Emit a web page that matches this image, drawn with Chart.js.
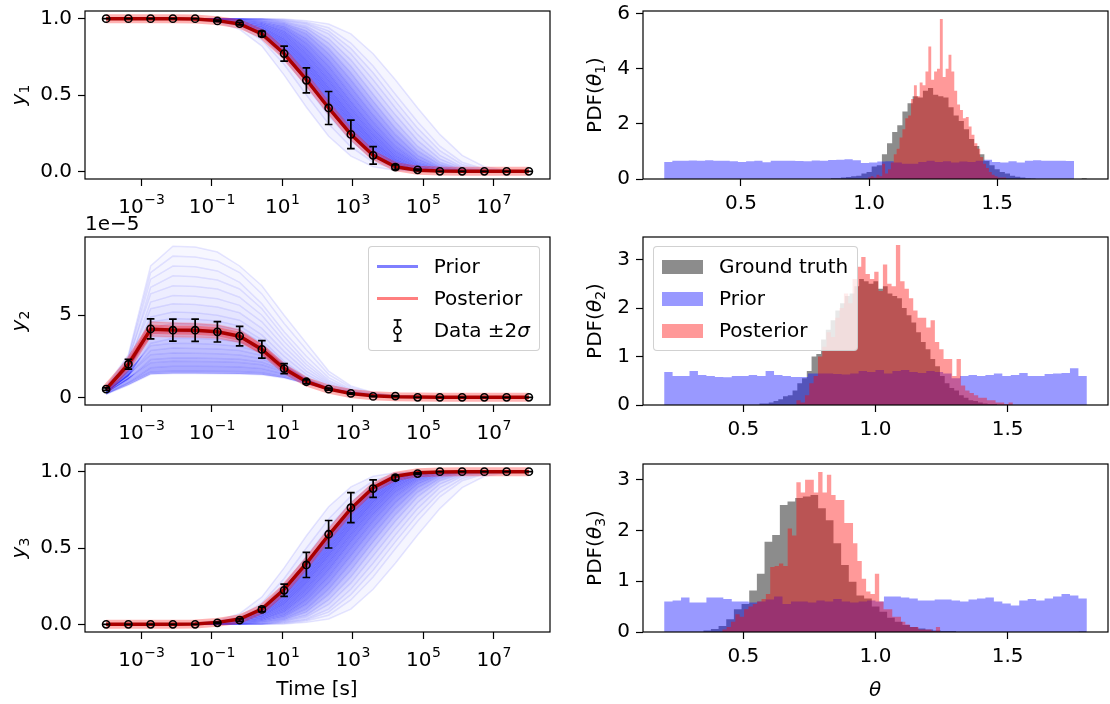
<!DOCTYPE html>
<html><head><meta charset="utf-8"><title>Prior / posterior</title>
<script src="https://cdn.jsdelivr.net/npm/chart.js@4.4.1/dist/chart.umd.min.js"></script>
<style>
html,body{margin:0;padding:0;background:#fff;}
body{position:relative;width:1110px;height:704px;overflow:hidden;font-family:"DejaVu Sans",sans-serif;color:#000;}
canvas{position:absolute;}
.t{position:absolute;font-size:20px;line-height:1.15;white-space:nowrap;z-index:3;}
.yl{transform:translate(-50%,-50%) rotate(-90deg);}
.xl{transform:translate(-50%,-50%);}
sub{font-size:70%;vertical-align:-0.3em;line-height:0;}
.leg{position:absolute;z-index:4;background:rgba(255,255,255,0.8);border:1px solid rgba(204,204,204,0.9);border-radius:4px;padding:8px 9px 8px 8px;font-size:20px;line-height:23px;}
.row{display:flex;align-items:center;height:23px;white-space:nowrap;}
.row+.row{margin-top:9px;}
.h{width:41px;height:23px;margin-right:16px;flex:none;display:flex;align-items:center;}
.p{width:41px;height:14px;}
</style></head><body>

<div class="t yl" style="left:18px;top:95px"><i>y</i><sub>1</sub></div>
<div class="t yl" style="left:18px;top:321px"><i>y</i><sub>2</sub></div>
<div class="t yl" style="left:18px;top:548px"><i>y</i><sub>3</sub></div>
<div class="t" style="left:85px;top:212px">1e−5</div>
<div class="t xl" style="left:317px;top:688px">Time [s]</div>
<div class="t yl" style="left:594px;top:95px">PDF(<i>θ</i><sub>1</sub>)</div>
<div class="t yl" style="left:594px;top:321px">PDF(<i>θ</i><sub>2</sub>)</div>
<div class="t yl" style="left:594px;top:548px">PDF(<i>θ</i><sub>3</sub>)</div>
<div class="t xl" style="left:875px;top:689px"><i>θ</i></div>

<div class="leg" style="right:570px;top:246px">
  <div class="row"><span class="h"><svg width="41" height="23"><line x1="0" y1="11.5" x2="41" y2="11.5" stroke="rgba(0,0,255,0.5)" stroke-width="2.8"/></svg></span>Prior</div>
  <div class="row"><span class="h"><svg width="41" height="23"><line x1="0" y1="11.5" x2="41" y2="11.5" stroke="rgba(255,0,0,0.5)" stroke-width="2.8"/></svg></span>Posterior</div>
  <div class="row"><span class="h"><svg width="41" height="23"><line x1="20.5" y1="1" x2="20.5" y2="22" stroke="#000" stroke-width="1.7"/><line x1="16.7" y1="1" x2="24.3" y2="1" stroke="#000" stroke-width="1.7"/><line x1="16.7" y1="22" x2="24.3" y2="22" stroke="#000" stroke-width="1.7"/><circle cx="20.5" cy="11.5" r="3.6" fill="#fff" stroke="#000" stroke-width="1.6"/></svg></span>Data ±2<i>σ</i></div>
</div>
<div class="leg" style="left:653px;top:246px">
  <div class="row"><span class="h"><span class="p" style="background:rgba(0,0,0,0.45)"></span></span>Ground truth</div>
  <div class="row"><span class="h"><span class="p" style="background:rgba(0,0,255,0.4)"></span></span>Prior</div>
  <div class="row"><span class="h"><span class="p" style="background:rgba(255,0,0,0.4)"></span></span>Posterior</div>
</div>

<script>
// ---------------- data ----------------
const TIME_S = [1e-4,4.281e-4,1.833e-3,7.848e-3,3.360e-2,0.1438,0.6158,2.637,11.29,48.33,206.9,885.9,3793,16238,69519,297635,1274275,5455595,23357215,1e8];
const X_TICK_EXPONENTS = [-3,-1,1,3,5,7];

const Y1_DATA = [1,1,1,1,1,0.985,0.967,0.90,0.771,0.596,0.415,0.242,0.105,0.028,0.01,0,0,0,0,0];
const Y1_ERR  = [0,0,0,0,0,0.005,0.008,0.016,0.049,0.082,0.108,0.093,0.057,0.015,0.005,0,0,0,0,0];
const Y2_DATA = [0.5,2.02,4.17,4.09,4.09,3.99,3.73,2.92,1.75,0.95,0.5,0.24,0.06,0.08,0,0,0,0,0,0]; // x 1e-5
const Y2_ERR  = [0.08,0.3,0.61,0.67,0.68,0.62,0.59,0.53,0.3,0.12,0.06,0.04,0.02,0.02,0,0,0,0,0,0];
const Y3_DATA = [0,0,0,0,0,0.01,0.028,0.098,0.223,0.389,0.59,0.764,0.889,0.96,0.987,1,1,1,1,1];
const Y3_ERR  = [0,0,0,0,0,0.005,0.008,0.015,0.04,0.082,0.09,0.098,0.057,0.015,0.005,0,0,0,0,0];

const POST_Y1 = [1,1,1,1,0.998,0.987,0.965,0.90,0.77,0.60,0.415,0.242,0.105,0.03,0.008,0.002,0,0,0,0];
const POST_Y2 = [0.5,2.02,4.15,4.1,4.08,4.0,3.72,2.92,1.75,0.95,0.5,0.24,0.1,0.04,0.015,0.005,0,0,0,0];
const POST_Y2_HI = [0.56,2.25,4.6,4.55,4.52,4.42,4.12,3.22,1.92,1.03,0.54,0.26,0.11,0.05,0.02,0.01,0,0,0,0];
const POST_Y2_LO = [0.44,1.82,3.72,3.68,3.66,3.6,3.34,2.64,1.6,0.88,0.46,0.22,0.09,0.03,0.01,0,0,0,0,0];
const POST_Y3 = [0,0,0,0,0.002,0.013,0.035,0.10,0.23,0.40,0.585,0.758,0.895,0.97,0.992,0.998,1,1,1,1];

const PRIOR_Y1 = [
 [1,1,1,1,0.993,0.975,0.93,0.82,0.63,0.42,0.23,0.1,0.03,0.007,0.001,0,0,0,0,0],
 [1,1,1,1,0.995,0.98,0.95,0.86,0.70,0.50,0.31,0.16,0.06,0.015,0.003,0,0,0,0,0],
 [1,1,1,1,0.997,0.984,0.958,0.885,0.74,0.555,0.365,0.2,0.08,0.02,0.004,0,0,0,0,0],
 [1,1,1,1,0.998,0.987,0.965,0.90,0.77,0.60,0.415,0.242,0.105,0.03,0.008,0.002,0,0,0,0],
 [1,1,1,1,0.999,0.99,0.971,0.92,0.805,0.645,0.46,0.283,0.135,0.045,0.011,0.003,0,0,0,0],
 [1,1,1,1,1,0.994,0.978,0.94,0.84,0.69,0.505,0.325,0.165,0.06,0.015,0.004,0,0,0,0],
 [1,1,1,1,1,0.996,0.982,0.952,0.87,0.73,0.552,0.37,0.203,0.082,0.022,0.006,0.001,0,0,0],
 [1,1,1,1,1,0.998,0.987,0.965,0.90,0.77,0.60,0.415,0.242,0.105,0.03,0.008,0.002,0,0,0],
 [1,1,1,1,1,0.999,0.99,0.971,0.92,0.805,0.645,0.46,0.283,0.135,0.045,0.011,0.003,0,0,0],
 [1,1,1,1,1,1,0.994,0.978,0.94,0.84,0.69,0.505,0.325,0.165,0.06,0.015,0.004,0,0,0],
 [1,1,1,1,1,1,0.996,0.982,0.952,0.87,0.73,0.552,0.37,0.203,0.082,0.022,0.006,0.001,0,0],
 [1,1,1,1,1,1,0.998,0.987,0.965,0.90,0.77,0.60,0.415,0.242,0.105,0.03,0.008,0.002,0,0],
 [1,1,1,1,1,1,0.999,0.99,0.971,0.92,0.805,0.645,0.46,0.283,0.135,0.045,0.011,0.003,0,0],
 [1,1,1,1,1,1,1,0.994,0.978,0.94,0.84,0.69,0.505,0.325,0.165,0.06,0.015,0.004,0,0],
 [1,1,1,1,1,1,1,0.996,0.982,0.952,0.87,0.73,0.552,0.37,0.203,0.082,0.022,0.006,0.001,0],
 [1,1,1,1,1,1,1,0.998,0.987,0.965,0.90,0.77,0.60,0.415,0.242,0.105,0.03,0.008,0.002,0],
 [1,1,1,1,1,1,1,0.999,0.99,0.971,0.92,0.805,0.645,0.46,0.283,0.135,0.045,0.011,0.003,0],
 [1,1,1,1,1,1,1,1,0.994,0.978,0.94,0.84,0.69,0.505,0.325,0.165,0.06,0.015,0.004,0],
 [1,1,1,1,1,1,1,1,0.998,0.987,0.965,0.90,0.77,0.60,0.415,0.242,0.105,0.03,0.008,0.002]
];
const PRIOR_Y2 = [
 [0.18,0.75,1.4,1.45,1.45,1.44,1.42,1.37,1.18,0.82,0.47,0.23,0.1,0.04,0.01,0,0,0,0,0],
 [0.22,0.9,1.55,1.6,1.6,1.59,1.57,1.5,1.25,0.85,0.48,0.23,0.1,0.04,0.01,0,0,0,0,0],
 [0.2,0.9,1.8,1.9,1.89,1.88,1.85,1.75,1.42,0.9,0.5,0.24,0.1,0.04,0.01,0,0,0,0,0],
 [0.3,1.2,2.1,2.2,2.19,2.17,2.12,1.98,1.55,0.95,0.5,0.24,0.1,0.04,0.01,0,0,0,0,0],
 [0.25,1.1,2.3,2.4,2.39,2.37,2.32,2.15,1.65,0.98,0.52,0.25,0.1,0.04,0.01,0,0,0,0,0],
 [0.35,1.4,2.6,2.7,2.69,2.66,2.58,2.35,1.75,1.0,0.52,0.25,0.1,0.04,0.01,0,0,0,0,0],
 [0.3,1.3,2.85,3.0,2.98,2.95,2.85,2.55,1.85,1.05,0.55,0.26,0.11,0.04,0.02,0,0,0,0,0],
 [0.4,1.6,3.15,3.3,3.28,3.22,3.1,2.75,1.9,1.05,0.55,0.26,0.1,0.04,0.01,0,0,0,0,0],
 [0.3,1.3,3.3,3.6,3.58,3.52,3.38,2.95,2.0,1.1,0.55,0.26,0.11,0.04,0.02,0,0,0,0,0],
 [0.5,1.9,3.9,4.0,3.98,3.9,3.7,3.1,2.0,1.1,0.55,0.25,0.1,0.04,0.01,0,0,0,0,0],
 [0.35,1.6,4.2,4.5,4.45,4.35,4.1,3.3,2.05,1.1,0.58,0.27,0.1,0.04,0.01,0,0,0,0,0],
 [0.45,1.9,4.6,4.8,4.75,4.65,4.35,3.5,2.2,1.2,0.62,0.28,0.11,0.04,0.02,0,0,0,0,0],
 [0.4,1.9,4.9,5.2,5.15,5.0,4.7,3.8,2.5,1.4,0.7,0.3,0.12,0.05,0.02,0,0,0,0,0],
 [0.5,2.1,5.4,5.7,5.65,5.5,5.15,4.2,2.8,1.6,0.78,0.33,0.13,0.05,0.02,0,0,0,0,0],
 [0.45,2.0,5.8,6.2,6.15,6.0,5.6,4.6,3.1,1.8,0.85,0.36,0.14,0.05,0.02,0,0,0,0,0],
 [0.55,2.3,6.3,6.8,6.75,6.6,6.1,5.0,3.4,2.0,0.95,0.4,0.16,0.06,0.02,0.01,0,0,0,0],
 [0.5,2.2,6.7,7.4,7.35,7.15,6.6,5.4,3.7,2.2,1.05,0.45,0.18,0.07,0.03,0.01,0,0,0,0],
 [0.65,2.4,7.2,8.0,7.95,7.7,7.0,5.7,4.0,2.5,1.2,0.5,0.2,0.08,0.03,0.01,0,0,0,0],
 [0.6,2.5,7.6,8.6,8.55,8.3,7.6,6.3,4.5,2.9,1.4,0.6,0.25,0.1,0.04,0.01,0,0,0,0],
 [0.7,2.6,8.0,9.2,9.15,8.85,8.0,6.8,5.0,3.3,1.6,0.7,0.3,0.12,0.05,0.02,0,0,0,0]
];
const PRIOR_Y3 = [
 [0,0,0,0,0.007,0.025,0.07,0.18,0.37,0.58,0.77,0.9,0.97,0.993,0.999,1,1,1,1,1],
 [0,0,0,0,0.005,0.02,0.05,0.14,0.30,0.50,0.69,0.84,0.94,0.985,0.997,1,1,1,1,1],
 [0,0,0,0,0.003,0.016,0.042,0.115,0.26,0.445,0.635,0.8,0.92,0.98,0.996,1,1,1,1,1],
 [0,0,0,0,0.002,0.013,0.035,0.10,0.23,0.40,0.585,0.758,0.895,0.97,0.992,0.998,1,1,1,1],
 [0,0,0,0,0.001,0.01,0.029,0.08,0.195,0.355,0.54,0.717,0.865,0.955,0.989,0.997,1,1,1,1],
 [0,0,0,0,0,0.006,0.022,0.06,0.16,0.31,0.495,0.675,0.835,0.94,0.985,0.996,1,1,1,1],
 [0,0,0,0,0,0.004,0.018,0.048,0.13,0.27,0.448,0.63,0.797,0.918,0.978,0.994,0.999,1,1,1],
 [0,0,0,0,0,0.002,0.013,0.035,0.10,0.23,0.40,0.585,0.758,0.895,0.97,0.992,0.998,1,1,1],
 [0,0,0,0,0,0.001,0.01,0.029,0.08,0.195,0.355,0.54,0.717,0.865,0.955,0.989,0.997,1,1,1],
 [0,0,0,0,0,0,0.006,0.022,0.06,0.16,0.31,0.495,0.675,0.835,0.94,0.985,0.996,1,1,1],
 [0,0,0,0,0,0,0.004,0.018,0.048,0.13,0.27,0.448,0.63,0.797,0.918,0.978,0.994,0.999,1,1],
 [0,0,0,0,0,0,0.002,0.013,0.035,0.10,0.23,0.40,0.585,0.758,0.895,0.97,0.992,0.998,1,1],
 [0,0,0,0,0,0,0.001,0.01,0.029,0.08,0.195,0.355,0.54,0.717,0.865,0.955,0.989,0.997,1,1],
 [0,0,0,0,0,0,0,0.006,0.022,0.06,0.16,0.31,0.495,0.675,0.835,0.94,0.985,0.996,1,1],
 [0,0,0,0,0,0,0,0.004,0.018,0.048,0.13,0.27,0.448,0.63,0.797,0.918,0.978,0.994,0.999,1],
 [0,0,0,0,0,0,0,0.002,0.013,0.035,0.10,0.23,0.40,0.585,0.758,0.895,0.97,0.992,0.998,1],
 [0,0,0,0,0,0,0,0.001,0.01,0.029,0.08,0.195,0.355,0.54,0.717,0.865,0.955,0.989,0.997,1],
 [0,0,0,0,0,0,0,0,0.006,0.022,0.06,0.16,0.31,0.495,0.675,0.835,0.94,0.985,0.996,1],
 [0,0,0,0,0,0,0,0,0.002,0.013,0.035,0.10,0.23,0.40,0.585,0.758,0.895,0.97,0.992,0.998]
];

// histograms: [first bin edge, bin width] and bin heights (density)
const GT1_BINS = [0.85, 0.02];
const GT1 = [0.03,0.03,0.05,0.07,0.1,0.12,0.2,0.25,0.45,0.5, 0.9,1.3,1.7,1.95,2.45,2.75,3.0,2.95,3.2,3.3, 3.05,3.0,2.95,2.6,2.3,2.1,1.8,1.45,1.2,0.9, 0.65,0.5,0.35,0.25,0.2,0.12,0.08,0.05,0.03,0.02, 0,0,0,0,0,0,0,0,0,0.03];
const PRIOR1_BINS = [0.2, 0.032];
const PRIOR1 = [0.62,0.66,0.66,0.67,0.66,0.68,0.66,0.66,0.64,0.62, 0.64,0.66,0.61,0.66,0.66,0.66,0.65,0.64,0.67,0.66, 0.69,0.70,0.72,0.68,0.58,0.60,0.63,0.64,0.60,0.55, 0.55,0.62,0.66,0.62,0.64,0.60,0.63,0.62,0.66,0.70, 0.62,0.60,0.64,0.60,0.66,0.68,0.66,0.66,0.66,0.65];
const POST1_BINS = [0.995, 0.01125];
const POST1 = [0.05,0.1,0.05,0.15,0.1,0.55,0.2,0.35,0.6,0.9, 1.1,1.5,1.8,2.2,2.3,2.9,3.4,3.0,3.5,3.4, 3.9,4.8,3.6,3.9,4.0,5.8,3.7,4.0,4.5,3.9, 3.2,2.7,2.5,2.2,2.25,1.9,1.6,1.3,1.1,0.8, 0.55,0.4,0.25,0.15,0.1,0.05,0.05,0.05];

const GT2_BINS = [0.56, 0.018];
const GT2 = [0.03,0.03,0.05,0.08,0.12,0.18,0.2,0.3,0.45,0.55, 0.7,1.0,1.05,1.35,1.55,1.75,1.95,2.1,2.25,2.3, 2.45,2.6,2.55,2.5,2.55,2.4,2.45,2.3,2.25,2.2, 2.0,1.85,1.7,1.5,1.3,1.15,0.95,0.8,0.6,0.45, 0.35,0.3,0.2,0.15,0.1,0.08,0.05,0.03,0.02,0.02];
const PRIOR2_BINS = [0.2, 0.032];
const PRIOR2 = [0.68,0.60,0.60,0.70,0.62,0.60,0.58,0.57,0.60,0.60, 0.62,0.60,0.70,0.62,0.60,0.58,0.58,0.65,0.65,0.65, 0.64,0.63,0.65,0.70,0.68,0.72,0.65,0.70,0.72,0.68, 0.66,0.70,0.68,0.65,0.55,0.60,0.62,0.60,0.62,0.65, 0.60,0.62,0.66,0.60,0.60,0.64,0.65,0.66,0.76,0.60];
const POST2_BINS = [0.70, 0.0164];
const POST2 = [0.1,0.05,0.2,0.45,0.6,1.0,1.2,1.5,1.4,1.8, 2.0,2.3,2.1,2.6,2.85,3.05,2.7,2.6,2.75,2.35, 2.9,2.5,2.45,3.3,2.55,2.4,2.2,1.95,1.8,1.8, 1.6,1.75,1.3,1.15,0.95,0.95,0.6,0.95,0.4,0.3, 0.25,0.2,0.15,0.15,0.1,0.1,0.05,0.05,0.02,0.05];

const GT3_BINS = [0.348, 0.029];
const GT3 = [0.03,0.06,0.12,0.25,0.45,0.55,0.82,1.15,1.78,1.91, 2.5,2.57,2.64,2.67,2.7,2.44,2.2,1.75,1.32,0.99, 0.72,0.66,0.5,0.4,0.28,0.2,0.14,0.1,0.07,0.05, 0.03,0.02,0.02,0,0,0,0,0,0,0, 0,0,0,0,0,0,0,0,0,0.01];
const PRIOR3_BINS = [0.2, 0.032];
const PRIOR3 = [0.60,0.62,0.68,0.58,0.58,0.68,0.68,0.65,0.60,0.60, 0.58,0.60,0.64,0.70,0.55,0.60,0.60,0.58,0.62,0.60, 0.65,0.60,0.58,0.60,0.62,0.60,0.70,0.70,0.68,0.66, 0.62,0.62,0.64,0.64,0.62,0.60,0.64,0.66,0.68,0.60, 0.56,0.52,0.62,0.65,0.62,0.66,0.70,0.75,0.72,0.66];
const POST3_BINS = [0.42, 0.0165];
const POST3 = [0.05,0.1,0.2,0.35,0.3,0.45,0.5,0.55,0.6,0.65, 0.75,1.28,1.3,1.35,1.3,2.04,1.9,2.95,2.75,3.0, 3.0,2.75,3.15,2.75,3.1,2.7,2.6,2.6,2.15,2.15, 1.75,1.4,1.05,0.8,0.75,1.15,0.6,0.45,0.45,0.3, 0.3,0.2,0.15,0.1,0.1,0.05,0.05,0.05,0.02,0.1];

// ---------------- layout / style ----------------
const FS = 20;
const PADL = 80, PADR = 12, PADT = 22, PADB = 62;
const COLS = [{x:85, w:465}, {x:643, w:465}];
const ROWS = [{y:11, h:168}, {y:237, h:168}, {y:464, h:168}];
const BAND_Y13 = [0,0.05,0.08,0.15,0.5,0.55,0.55,0.52,0.5,0.46,0.42,0.36,0.3,0.23,0.17,0.12,0.09,0.06,0.04];
const BAND_Y2 = [0,0.34,0.34,0.32,0.3,0.28,0.26,0.24,0.22,0.2,0.17,0.15,0.12,0.1,0.08,0.07,0.06,0.05,0.04,0.03];

Chart.defaults.font.family = '"DejaVu Sans", sans-serif';
Chart.defaults.font.size = FS;
Chart.defaults.color = '#000';

function placeCanvas(col, row){
  const r = {x:COLS[col].x, w:COLS[col].w, y:ROWS[row].y, h:ROWS[row].h};
  const c = document.createElement('canvas');
  const w = r.w + PADL + PADR, h = r.h + PADT + PADB;
  c.width = w; c.height = h;
  Object.assign(c.style, {left:(r.x-PADL)+'px', top:(r.y-PADT)+'px', width:w+'px', height:h+'px'});
  document.body.appendChild(c);
  return c;
}
const tickGrid = {drawOnChartArea:false, drawTicks:true, tickLength:7, tickWidth:1.2, tickColor:'#000', color:'#000'};
function linAxis(min, max, ticks, fmt, isY){
  return {type:'linear', min, max,
    afterBuildTicks: s => { s.ticks = ticks.map(v => ({value:v})); },
    afterFit: s => { if (isY) s.width = PADL; else s.height = PADB; },
    grid: tickGrid, border:{display:false},
    ticks:{color:'#000', font:{size:FS}, padding:6, maxRotation:0, autoSkip:false, callback: v => fmt(v)}};
}
function logAxis(){
  return {type:'logarithmic', min:Math.pow(10,-4.6), max:Math.pow(10,8.6),
    afterBuildTicks: s => { s.ticks = X_TICK_EXPONENTS.map(e => ({value:Math.pow(10,e)})); },
    afterFit: s => { s.height = PADB; },
    grid: tickGrid, border:{display:false}, ticks:{display:false}};
}
const framePlugin = {id:'frame', afterDraw(chart){
  const a = chart.chartArea, ctx = chart.ctx;
  ctx.save(); ctx.strokeStyle = '#000'; ctx.lineWidth = 1.2;
  ctx.strokeRect(a.left, a.top, a.right-a.left, a.bottom-a.top); ctx.restore();
}};
const logLabelPlugin = {id:'logLabels', afterDraw(chart){
  const s = chart.scales.x, a = chart.chartArea, ctx = chart.ctx;
  ctx.save(); ctx.fillStyle = '#000'; ctx.textBaseline = 'alphabetic'; ctx.textAlign = 'left';
  const big = FS + 'px "DejaVu Sans"', small = Math.round(FS*0.7) + 'px "DejaVu Sans"';
  X_TICK_EXPONENTS.forEach(e => {
    const px = s.getPixelForValue(Math.pow(10, e));
    const sup = (e < 0 ? '\u2212' : '') + Math.abs(e);
    ctx.font = big; const wb = ctx.measureText('10').width;
    ctx.font = small; const ws = ctx.measureText(sup).width;
    const x0 = px - (wb + ws) / 2;
    ctx.font = big; ctx.fillText('10', x0, a.bottom + 34);
    ctx.font = small; ctx.fillText(sup, x0 + wb + 0.5, a.bottom + 25);
  });
  ctx.restore();
}};
function errPlugin(ys, es, afterIdx){
  return {id:'err', afterDatasetDraw(chart, args){
    if (args.index !== afterIdx) return;
    const xs = chart.scales.x, yS = chart.scales.y, ctx = chart.ctx;
    ctx.save(); ctx.strokeStyle = '#000'; ctx.lineWidth = 1.7; ctx.beginPath();
    TIME_S.forEach((t, i) => {
      const px = xs.getPixelForValue(t);
      const top = yS.getPixelForValue(ys[i] + es[i]), bot = yS.getPixelForValue(ys[i] - es[i]);
      ctx.moveTo(px, top); ctx.lineTo(px, bot);
      ctx.moveTo(px-3.8, top); ctx.lineTo(px+3.8, top);
      ctx.moveTo(px-3.8, bot); ctx.lineTo(px+3.8, bot);
    });
    ctx.stroke(); ctx.restore();
  }};
}
const pts = (ys) => TIME_S.map((t, i) => ({x:t, y:ys[i]}));
const line = (ys, color, width, extra) => Object.assign({data:pts(ys), showLine:true, borderColor:color, borderWidth:width, pointRadius:0, tension:0, fill:false}, extra||{});

function timePanel(row, cfg){
  const ds = [];
  ds.push({data:pts(cfg.data), showLine:false, pointRadius:3.6, pointBorderWidth:1.6, pointBorderColor:'#000', pointBackgroundColor:'rgba(0,0,0,0)'});
  ds.push(line(cfg.post, 'rgb(170,0,0)', 3.5));
  ds.push(line(cfg.post, 'rgba(255,0,0,0.3)', 9));
  if (cfg.lo) {
    ds.push(line(cfg.lo, 'rgba(255,0,0,0.15)', 1.5));
    ds.push(line(cfg.hi, 'rgba(255,0,0,0.15)', 1.5, {fill:'-1', backgroundColor:'rgba(255,0,0,0.22)'}));
  }
  cfg.prior.forEach((curve, k) => ds.push(line(curve, 'rgba(0,0,255,0.1)', 1.5,
    k === 0 ? {} : {fill:'-1', backgroundColor:'rgba(0,0,255,' + cfg.band[k] + ')'})));
  new Chart(placeCanvas(0, row), {
    type:'scatter', data:{datasets:ds},
    options:{responsive:false, animation:false, devicePixelRatio:1, events:[],
      layout:{padding:{top:PADT, right:PADR, left:0, bottom:0}},
      plugins:{legend:{display:false}, tooltip:{enabled:false}},
      scales:{x:logAxis(), y:linAxis(cfg.ymin, cfg.ymax, cfg.yticks, cfg.fmt, true)}},
    plugins:[errPlugin(cfg.data, cfg.err, 1), logLabelPlugin, framePlugin]
  });
}
function stepData(bins, h){
  const [start, w] = bins;
  const d = [{x:start, y:0}];
  h.forEach((v, k) => d.push({x:start + k*w, y:v}));
  d.push({x:start + h.length*w, y:h[h.length-1]});
  d.push({x:start + h.length*w, y:0});
  return d;
}
const histDs = (bins, h, color) => ({data:stepData(bins, h), showLine:true, stepped:'before', fill:'origin',
  backgroundColor:color, borderColor:'rgba(0,0,0,0)', borderWidth:0, pointRadius:0});
function histPanel(row, cfg){
  new Chart(placeCanvas(1, row), {
    type:'scatter',
    data:{datasets:[histDs(cfg.postBins, cfg.post, 'rgba(255,0,0,0.4)'),
                    histDs(cfg.priorBins, cfg.prior, 'rgba(0,0,255,0.4)'),
                    histDs(cfg.gtBins, cfg.gt, 'rgba(0,0,0,0.45)')]},
    options:{responsive:false, animation:false, devicePixelRatio:1, events:[],
      layout:{padding:{top:PADT, right:PADR, left:0, bottom:0}},
      plugins:{legend:{display:false}, tooltip:{enabled:false}},
      scales:{x:linAxis(cfg.xmin, cfg.xmax, [0.5,1.0,1.5], v => v.toFixed(1), false),
              y:linAxis(0, cfg.ymax, cfg.yticks, v => String(v), true)}},
    plugins:[framePlugin]
  });
}

const f1 = v => v.toFixed(1), f0 = v => String(v);
timePanel(0, {data:Y1_DATA, err:Y1_ERR, post:POST_Y1, prior:PRIOR_Y1, band:BAND_Y13, ymin:-0.05, ymax:1.05, yticks:[0,0.5,1], fmt:f1});
timePanel(1, {data:Y2_DATA, err:Y2_ERR, post:POST_Y2, lo:POST_Y2_LO, hi:POST_Y2_HI, prior:PRIOR_Y2, band:BAND_Y2, ymin:-0.465, ymax:9.765, yticks:[0,5], fmt:f0});
timePanel(2, {data:Y3_DATA, err:Y3_ERR, post:POST_Y3, prior:PRIOR_Y3, band:BAND_Y13, ymin:-0.05, ymax:1.05, yticks:[0,0.5,1], fmt:f1});
histPanel(0, {gt:GT1, gtBins:GT1_BINS, prior:PRIOR1, priorBins:PRIOR1_BINS, post:POST1, postBins:POST1_BINS, xmin:0.1175, xmax:1.9325, ymax:6.09, yticks:[0,2,4,6]});
histPanel(1, {gt:GT2, gtBins:GT2_BINS, prior:PRIOR2, priorBins:PRIOR2_BINS, post:POST2, postBins:POST2_BINS, xmin:0.12, xmax:1.88, ymax:3.465, yticks:[0,1,2,3]});
histPanel(2, {gt:GT3, gtBins:GT3_BINS, prior:PRIOR3, priorBins:PRIOR3_BINS, post:POST3, postBins:POST3_BINS, xmin:0.12, xmax:1.88, ymax:3.31, yticks:[0,1,2,3]});
</script>
</body></html>
